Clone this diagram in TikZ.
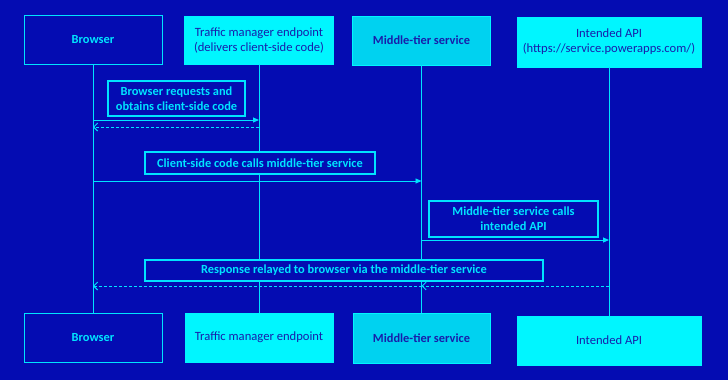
\documentclass[tikz,border=0pt]{standalone}
\usepackage{fontspec}
\setmainfont{Carlito}
\usetikzlibrary{arrows.meta}
\definecolor{bgblue}{RGB}{4,12,178}
\definecolor{lcyan}{RGB}{0,228,255}
\definecolor{fcyan}{RGB}{0,246,255}
\definecolor{mcyan}{RGB}{0,210,240}
\definecolor{tblue}{RGB}{24,30,170}
\tikzset{
  x=1pt, y=-1pt,
  actor/.style={draw=lcyan, line width=0.9pt, minimum width=#1, inner sep=0pt, align=center},
  darkactor/.style={actor=#1, fill=bgblue, text=lcyan, font=\fontsize{12.4}{15}\selectfont\bfseries},
  lightactor/.style={actor=#1, fill=fcyan, draw=fcyan, text=tblue, font=\fontsize{12.6}{15}\selectfont},
  midactor/.style={actor=#1, fill=mcyan, draw=fcyan, text=tblue, font=\fontsize{12.4}{15}\selectfont\bfseries},
  lbl/.style={draw=lcyan, line width=1.2pt, fill=bgblue, text=lcyan, inner sep=0pt, align=center, font=\fontsize{12.4}{15}\selectfont\bfseries},
  life/.style={lcyan, line width=0.9pt},
  msg/.style={lcyan, line width=0.9pt, -{Triangle[length=6pt,width=5pt]}},
  ret/.style={lcyan, line width=0.9pt, dash pattern=on 3pt off 2pt, -{Straight Barb[length=4pt,width=8pt]}},
}
\begin{document}
\begin{tikzpicture}
\fill[bgblue] (0,0) rectangle (728,380);
\useasboundingbox (0,0) rectangle (728,380);
% top actors
\node[darkactor=138pt, minimum height=49pt] (btop) at (93,39.5) {Browser};
\node[lightactor=149pt, minimum height=48pt] (ttop) at (259,40) {Traffic manager endpoint\\(delivers client-side code)};
\node[midactor=138pt, minimum height=49pt] (mtop) at (421.5,40.5) {Middle-tier service};
\node[lightactor=184pt, minimum height=50pt] (atop) at (609,42) {Intended API\\(https://service.powerapps.com/)};
% bottom actors
\node[darkactor=138pt, minimum height=49pt] (bbot) at (93,337.5) {Browser};
\node[lightactor=148pt, minimum height=49pt] (tbot) at (259,337.5) {Traffic manager endpoint};
\node[midactor=137pt, minimum height=50pt] (mbot) at (421.5,338) {Middle-tier service};
\node[lightactor=184pt, minimum height=49pt] (abot) at (609,340.5) {Intended API};
% lifelines
\draw[life] (btop) -- (bbot);
\draw[life] (ttop) -- (tbot);
\draw[life] (mtop) -- (mbot);
\draw[life] (atop) -- (abot);
% message anchor points
\coordinate (b1) at (btop |- 0,120);
\coordinate (t1) at (ttop |- 0,120);
\coordinate (b2) at (btop |- 0,127);
\coordinate (t2) at (ttop |- 0,127);
\coordinate (b3) at (btop |- 0,181);
\coordinate (m3) at (mtop |- 0,181);
\coordinate (m4) at (mtop |- 0,240);
\coordinate (a4) at (atop |- 0,240);
\coordinate (a5) at (atop |- 0,286);
\coordinate (m5) at (mtop |- 0,286);
\coordinate (b5) at (btop |- 0,286);
% labels
\node[lbl, minimum width=137pt, minimum height=35pt] (l1) at (176.5,98.5) {Browser requests and\\obtains client-side code};
\node[lbl, minimum width=230pt, minimum height=22pt] (l2) at (260,163) {Client-side code calls middle-tier service};
\node[lbl, minimum width=169pt, minimum height=36pt] (l3) at (513.5,219) {Middle-tier service calls\\intended API};
\node[lbl, minimum width=398pt, minimum height=21pt] (l4) at (344,270.5) {Response relayed to browser via the middle-tier service};
% messages
\draw[msg] (b1) -- (t1);
\draw[ret] (t2) -- (b2);
\draw[msg] (b3) -- (m3);
\draw[msg] (m4) -- (a4);
\draw[ret] (a5) -- (m5);
\draw[ret] (m5) -- (b5);
\end{tikzpicture}
\end{document}
